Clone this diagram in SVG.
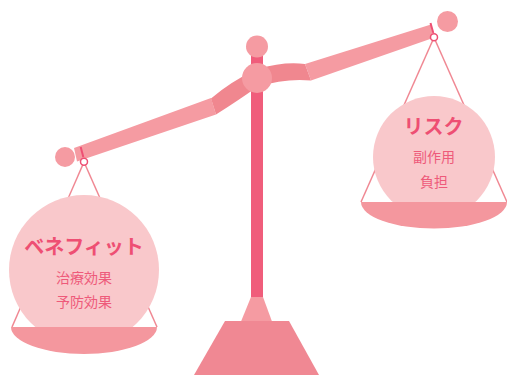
<svg xmlns="http://www.w3.org/2000/svg" width="507" height="375" viewBox="0 0 507 375">
  <style>
    .string { stroke: #f08893; stroke-width: 1.5; fill: none; }
    .hook { stroke: #ee4f73; stroke-width: 2; fill: none; }
    .ring { stroke: #ee4f73; stroke-width: 1.5; fill: #ffffff; }
    .weight { fill: #f9c8cb; }
    .pan { fill: #f4979e; }
    .beam { fill: #f59ba2; }
    .beam-mid { fill: #f0878f; }
    .knob { fill: #f59ba2; }
    .title { font-family: "Noto Sans CJK JP", "Noto Sans", sans-serif; font-weight: bold; font-size: 20px; fill: #ee4f73; text-anchor: middle; }
    .item { font-family: "Noto Sans CJK JP", "Noto Sans", sans-serif; font-size: 14px; fill: #ee5a7a; text-anchor: middle; }
  </style>

  <!-- stand -->
  <g id="stand">
    <rect x="251" y="50" width="12" height="248" fill="#f05d7b"/>
    <polygon points="251,297 263,297 272,321.5 241,321.5" fill="#f59ba2"/>
    <polygon points="225,321 289,321 319,375 194,375" fill="#f08893"/>
  </g>

  <!-- beam -->
  <g id="beam">
    <polygon class="beam" points="74,148 211,98 216,114.5 77,161.5"/>
    <polygon class="beam" points="305,64 431,24.5 433,38 311,80.5"/>
    <path class="beam-mid" d="M211,98.5 Q230,82 257,69 Q285,61 305,64 L311,80.5 Q285,78 257,87 Q239,100 216,114.5 Z"/>
    <circle class="knob" cx="65" cy="157" r="10"/>
    <circle class="knob" cx="447.5" cy="21.5" r="10.5"/>
    <circle class="knob" cx="257" cy="46.5" r="11"/>
    <circle class="knob" cx="257" cy="78" r="15"/>
  </g>

  <!-- connectors: hooks and strings -->
  <g id="connectors">
    <line class="hook" x1="80.7" y1="147" x2="83.3" y2="157"/>
    <line class="hook" x1="430.5" y1="23" x2="433.3" y2="33"/>
    <line class="string" x1="84" y1="162" x2="12" y2="327"/>
    <line class="string" x1="84" y1="162" x2="157" y2="327"/>
    <line class="string" x1="434" y1="37.5" x2="361" y2="202"/>
    <line class="string" x1="434" y1="37.5" x2="507" y2="202"/>
    <circle class="ring" cx="84" cy="161.8" r="3.5"/>
    <circle class="ring" cx="434" cy="37.3" r="3.5"/>
  </g>

  <!-- left pan: benefits -->
  <g id="benefit">
    <circle class="weight" cx="84" cy="270" r="75"/>
    <path class="pan" d="M11,327 L157,327 A73,27 0 0 1 11,327 Z"/>
    <text class="title" x="84" y="254">ベネフィット</text>
    <text class="item" x="84" y="283">治療効果</text>
    <text class="item" x="84" y="307">予防効果</text>
  </g>

  <!-- right pan: risks -->
  <g id="risk">
    <circle class="weight" cx="434" cy="157" r="61"/>
    <path class="pan" d="M361,202 L507,202 A73,26.5 0 0 1 361,202 Z"/>
    <text class="title" x="433.5" y="133.5">リスク</text>
    <text class="item" x="434" y="162">副作用</text>
    <text class="item" x="434" y="187">負担</text>
  </g>
</svg>
